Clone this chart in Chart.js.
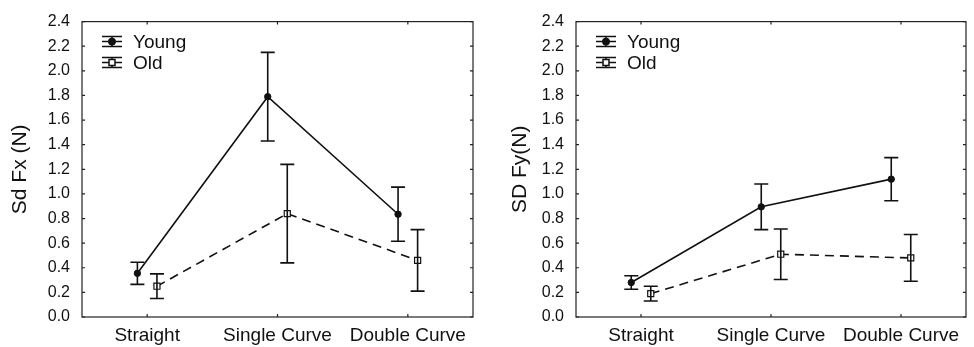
<!DOCTYPE html>
<html>
<head>
<meta charset="utf-8">
<script src="https://cdn.jsdelivr.net/npm/chart.js@4.4.1/dist/chart.umd.min.js"></script>
<style>
  body{margin:0;background:#fff;width:974px;height:347px;overflow:hidden;position:relative}
  canvas{position:absolute;top:0}
  #fx{left:0}
  #fy{left:487px}
</style>
</head>
<body>
<canvas id="fx" width="487" height="347"></canvas>
<canvas id="fy" width="487" height="347"></canvas>
<script>
const categories = ['Straight', 'Single Curve', 'Double Curve'];
const yTicks = [0, 0.2, 0.4, 0.6, 0.8, 1.0, 1.2, 1.4, 1.6, 1.8, 2.0, 2.2, 2.4];

// Sd Fx (N)
const fxYoung = [0.355, 1.79, 0.835];
const fxYoungErr = [0.09, 0.36, 0.22];
const fxOld = [0.25, 0.84, 0.46];
const fxOldErr = [0.10, 0.40, 0.25];

// SD Fy (N)
const fyYoung = [0.28, 0.895, 1.12];
const fyYoungErr = [0.055, 0.185, 0.175];
const fyOld = [0.19, 0.51, 0.48];
const fyOldErr = [0.06, 0.205, 0.19];

const FONT = "'Liberation Sans', Arial, Helvetica, sans-serif";
const INK = '#111';
const DX = 0.075; // side-by-side offset of the two groups

function pts(vals, shift){ return vals.map((v,i)=>({x:i+shift, y:v})); }

const errorBars = {
  id:'errorBars',
  afterDatasetsDraw(chart){
    const {ctx, scales:{x, y}} = chart;
    ctx.save();
    ctx.strokeStyle = INK; ctx.lineWidth = 1.6;
    chart.data.datasets.forEach(ds=>{
      ds.data.forEach((p,i)=>{
        const e = ds.errors[i];
        const px = x.getPixelForValue(p.x);
        const top = y.getPixelForValue(p.y + e), bot = y.getPixelForValue(p.y - e);
        ctx.beginPath();
        ctx.moveTo(px, top); ctx.lineTo(px, bot);
        ctx.moveTo(px-7, top); ctx.lineTo(px+7, top);
        ctx.moveTo(px-7, bot); ctx.lineTo(px+7, bot);
        ctx.stroke();
      });
    });
    ctx.restore();
  }
};

const frame = {
  id:'frame',
  afterDraw(chart){
    const {ctx, chartArea:a, scales:{x, y}} = chart;
    ctx.save();
    ctx.strokeStyle = '#222'; ctx.lineWidth = 1.2;
    ctx.strokeRect(a.left, a.top, a.right-a.left, a.bottom-a.top);
    ctx.beginPath();
    y.ticks.forEach(t=>{
      const py = y.getPixelForValue(t.value);
      ctx.moveTo(a.left, py); ctx.lineTo(a.left+3, py);
      ctx.moveTo(a.right, py); ctx.lineTo(a.right-3, py);
    });
    x.ticks.forEach(t=>{
      const px = x.getPixelForValue(t.value);
      ctx.moveTo(px, a.top); ctx.lineTo(px, a.top+3);
      ctx.moveTo(px, a.bottom); ctx.lineTo(px, a.bottom-3);
    });
    ctx.stroke();
    ctx.restore();
  }
};

const legendBox = {
  id:'legendBox',
  afterDraw(chart){
    const {ctx, chartArea:a} = chart;
    ctx.save();
    chart.data.datasets.forEach((ds,i)=>{
      const x0 = a.left + 20, cy = a.top + 20 + i*21;
      ctx.strokeStyle = INK; ctx.lineWidth = 1.5; ctx.setLineDash([]);
      ctx.beginPath();
      ctx.moveTo(x0, cy-5); ctx.lineTo(x0+20, cy-5);
      ctx.moveTo(x0, cy); ctx.lineTo(x0+20, cy);
      ctx.moveTo(x0, cy+5); ctx.lineTo(x0+20, cy+5);
      ctx.moveTo(x0+10, cy-5); ctx.lineTo(x0+10, cy+5);
      ctx.stroke();
      ctx.fillStyle = ds.pointBackgroundColor;
      ctx.beginPath();
      if(ds.pointStyle === 'rect'){ ctx.rect(x0+7, cy-3, 6, 6); }
      else { ctx.arc(x0+10, cy, 3.2, 0, Math.PI*2); }
      ctx.fill(); ctx.stroke();
      ctx.fillStyle = INK;
      ctx.font = '19px ' + FONT;
      ctx.textBaseline = 'middle';
      ctx.fillText(ds.label, x0 + 31, cy + 1);
    });
    ctx.restore();
  }
};

function makeChart(id, title, young, youngErr, old, oldErr, yWidth, pad, titlePad){
  return new Chart(document.getElementById(id), {
    type:'line',
    data:{
      datasets:[
        {label:'Young', data:pts(young,-DX), errors:youngErr,
         borderColor:INK, borderWidth:1.6, pointStyle:'circle', pointRadius:3.2,
         pointBackgroundColor:INK, pointBorderColor:INK, pointBorderWidth:1},
        {label:'Old', data:pts(old,DX), errors:oldErr,
         borderColor:INK, borderWidth:1.6, borderDash:[9,6], pointStyle:'rect', pointRadius:4.3,
         pointBackgroundColor:'#fff', pointBorderColor:INK, pointBorderWidth:1.2}
      ]
    },
    options:{
      responsive:false, animation:false,
      layout:{padding:pad},
      plugins:{legend:{display:false}, tooltip:{enabled:false}},
      scales:{
        x:{type:'linear', min:-0.5, max:2.5,
           afterBuildTicks:s=>{ s.ticks = categories.map((c,i)=>({value:i})); },
           afterFit:s=>{ s.height = 30; },
           grid:{display:false, drawTicks:false}, border:{display:false},
           ticks:{callback:v=>categories[v], color:INK, padding:7, maxRotation:0, autoSkip:false,
                  font:{family:FONT, size:19}}},
        y:{min:0, max:2.4,
           afterBuildTicks:s=>{ s.ticks = yTicks.map(v=>({value:v})); },
           afterFit:s=>{ s.width = yWidth; },
           grid:{display:false, drawTicks:false}, border:{display:false},
           ticks:{callback:v=>v.toFixed(1), color:INK, padding:12, font:{family:FONT, size:16}},
           title:{display:true, text:title, color:INK, padding:{top:titlePad, bottom:0},
                  font:{family:FONT, size:21}}}
      }
    },
    plugins:[errorBars, frame, legendBox]
  });
}

makeChart('fx', 'Sd Fx (N)', fxYoung, fxYoungErr, fxOld, fxOldErr, 82, {top:19, right:14, bottom:0, left:0}, 8);
makeChart('fy', 'SD Fy(N)', fyYoung, fyYoungErr, fyOld, fyOldErr, 89, {top:20, right:8, bottom:0, left:0}, 21);
</script>
</body>
</html>
